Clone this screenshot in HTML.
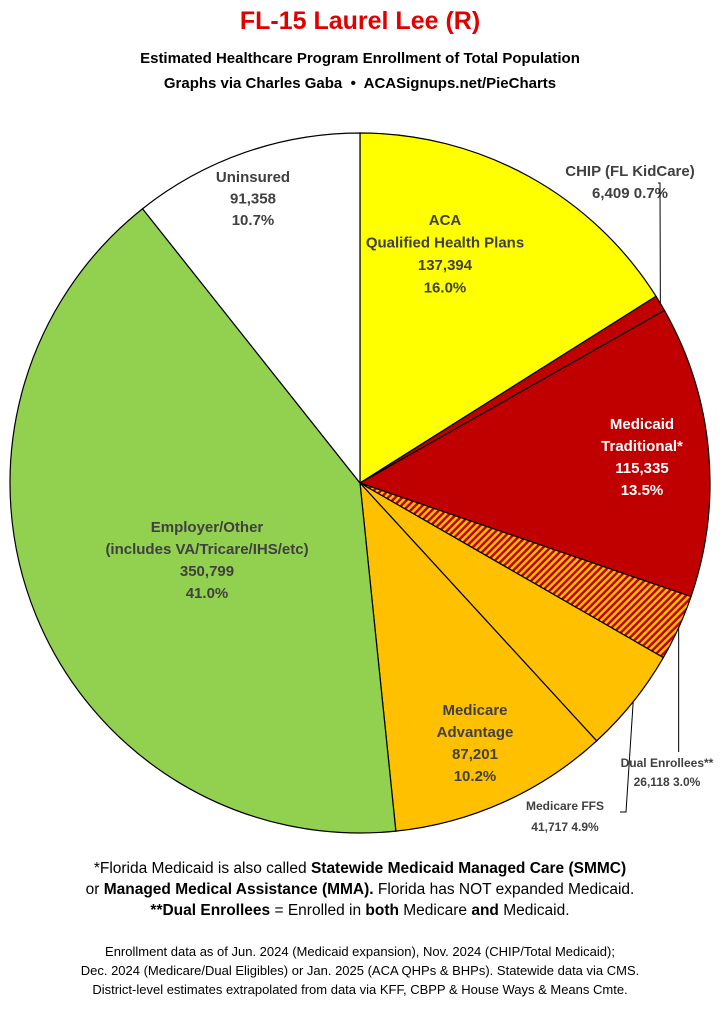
<!DOCTYPE html>
<html><head><meta charset="utf-8"><style>
body{margin:0;background:#fff;width:720px;height:1010px;overflow:hidden;font-family:"Liberation Sans",sans-serif}
.t{position:absolute;left:0;width:720px;text-align:center;font-weight:bold;color:#000}
</style></head><body>
<div class="t" style="top:7px;font-size:25px;color:#e00000">FL-15 Laurel Lee (R)</div>
<div class="t" style="top:50px;font-size:15px">Estimated Healthcare Program Enrollment of Total Population</div>
<div class="t" style="top:75px;font-size:15px">Graphs via Charles Gaba &nbsp;•&nbsp; ACASignups.net/PieCharts</div>
<svg id="pie" width="720" height="850" style="position:absolute;left:0;top:0">
<defs><pattern id="hatch" width="5" height="5" patternUnits="userSpaceOnUse" patternTransform="rotate(45)"><rect width="5" height="5" fill="#ffc000"/><rect width="2.5" height="5" fill="#c00000"/></pattern></defs>
</svg>
<div class="t" style="top:858px;font-size:15.5px;font-weight:normal;line-height:21px">*Florida Medicaid is also called <b>Statewide Medicaid Managed Care (SMMC)</b><br>or <b>Managed Medical Assistance (MMA).</b> Florida has NOT expanded Medicaid.<br><b>**Dual Enrollees</b> = Enrolled in <b>both</b> Medicare <b>and</b> Medicaid.</div>
<div class="t" style="top:942px;font-size:13px;font-weight:normal;line-height:19px">Enrollment data as of Jun. 2024 (Medicaid expansion), Nov. 2024 (CHIP/Total Medicaid);<br>Dec. 2024 (Medicare/Dual Eligibles) or Jan. 2025 (ACA QHPs &amp; BHPs). Statewide data via CMS.<br>District-level estimates extrapolated from data via KFF, CBPP &amp; House Ways &amp; Means Cmte.</div>
<script>
const categories=["ACA","CHIP","Medicaid","Dual","MedicareFFS","MedicareAdv","Employer","Uninsured"];
const values=[137394,6409,115335,26118,41717,87201,350799,91358];
const colors=["#ffff00","#c00000","#c00000","url(#hatch)","#ffc000","#ffc000","#92d050","#ffffff"];
const labels=[["ACA","Qualified Health Plans","137,394","16.0%"],["CHIP (FL KidCare)","6,409 0.7%"],["Medicaid","Traditional*","115,335","13.5%"],["Dual Enrollees**","26,118 3.0%"],["Medicare FFS","41,717 4.9%"],["Medicare","Advantage","87,201","10.2%"],["Employer/Other","(includes VA/Tricare/IHS/etc)","350,799","41.0%"],["Uninsured","91,358","10.7%"]];
const NS="http://www.w3.org/2000/svg";
const svg=document.getElementById('pie');
const cx=360,cy=483,R=350;
const total=values.reduce((a,b)=>a+b,0);
function pt(a,r){return [cx+r*Math.sin(a),cy-r*Math.cos(a)];}
let a0=0;const mids=[];
values.forEach((v,i)=>{
 const a1=a0+v/total*2*Math.PI;
 const p0=pt(a0,R),p1=pt(a1,R);
 const p=document.createElementNS(NS,'path');
 p.setAttribute('d',`M${cx},${cy}L${p0[0]},${p0[1]}A${R},${R} 0 ${a1-a0>Math.PI?1:0} 1 ${p1[0]},${p1[1]}Z`);
 p.setAttribute('fill',colors[i]);p.setAttribute('stroke','#000');p.setAttribute('stroke-width','1.2');
 
 
 svg.appendChild(p);mids.push((a0+a1)/2);a0=a1;
});
const lpos=[[445,220,22.5,"#404040"],[630,171,22,"#404040"],[642,424,22,"#fff"],[667,762,19,"#404040"],[565,805,21,"#404040"],[475,710,22,"#404040"],[207,527,22,"#404040"],[253,177,21.5,"#404040"]];
labels.forEach((ls,i)=>{
 const [x,y,lh,c]=lpos[i];
 ls.forEach((s,j)=>{
  const t=document.createElementNS(NS,'text');
  t.setAttribute('x',x);t.setAttribute('y',y+j*lh+5);
  t.setAttribute('text-anchor','middle');t.setAttribute('font-weight','bold');
  t.setAttribute('font-size',(i==3||i==4)?'12':'15');t.setAttribute('fill',c);
  t.setAttribute('font-family','Liberation Sans, sans-serif');
  t.textContent=s;
  
  
  svg.appendChild(t);
 });
});
function leader(i,pts){
 const e=pt(mids[i],R);
 const l=document.createElementNS(NS,'polyline');
 l.setAttribute('points',[e].concat(pts).map(p=>p.join(',')).join(' '));
 l.setAttribute('fill','none');l.setAttribute('stroke','#000');l.setAttribute('stroke-width','1');
 
 
 svg.appendChild(l);
}
leader(1,[[660,183],[658,183]]);
leader(3,[[pt(mids[3],R)[0],752]]);
leader(4,[[626,812],[620,812]]);
</script>
</body></html>
